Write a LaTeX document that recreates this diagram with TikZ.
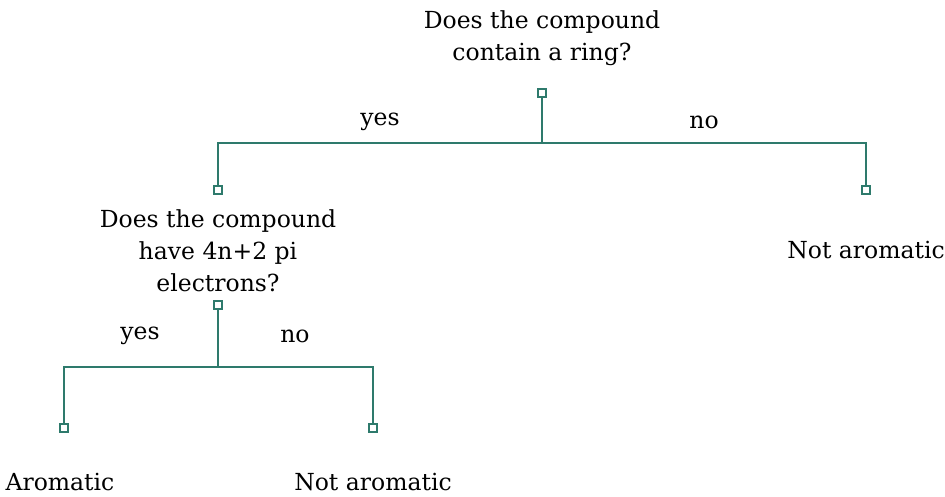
\documentclass[tikz,border=0pt]{standalone}
\usepackage{fontspec}
\setmainfont{DejaVu Serif}
\definecolor{branch}{HTML}{2E7A6C}
\begin{document}
\begin{tikzpicture}[x=1pt,y=-1pt,
  lbl/.style={font=\fontsize{23.5}{32}\selectfont, align=center, inner sep=0pt, anchor=center},
  wire/.style={draw=branch, line width=2.2pt},
  pin/.style={draw=branch, fill=white, line width=1.6pt, minimum size=7.5pt, inner sep=0pt, rectangle}]
\useasboundingbox (0,0) rectangle (945,497);
% questions and outcomes
\node[lbl] (q1) at (542,38) {Does the compound\\contain a ring?};
\node[lbl] (q2) at (218,251) {Does the compound\\have 4n+2 pi\\electrons?};
\node[lbl] (na1) at (866,250) {Not aromatic};
\node[lbl, anchor=base] (ar) at (60,490) {Aromatic};
\node[lbl, anchor=base] (na2) at (373,490) {Not aromatic};
% branch labels
\node[lbl] (y1) at (380,122) {yes};
\node[lbl] (n1) at (704,122) {no};
\node[lbl] (y2) at (140,336) {yes};
\node[lbl] (n2) at (295,336) {no};
% junctions
\coordinate (j1) at (542,143);
\coordinate (j2) at (218,367);
% pins
\node[pin] (p1) at (542,93) {};
\node[pin] (p2) at (218,190) {};
\node[pin] (p3) at (866,190) {};
\node[pin] (p4) at (218,305) {};
\node[pin] (p5) at (64,428) {};
\node[pin] (p6) at (373,428) {};
% connectors
\draw[wire] (p1.south) -- (j1);
\draw[wire] (p2.north) |- (j1) -| (p3.north);
\draw[wire] (p4.south) -- (j2);
\draw[wire] (p5.north) |- (j2) -| (p6.north);
\end{tikzpicture}
\end{document}
